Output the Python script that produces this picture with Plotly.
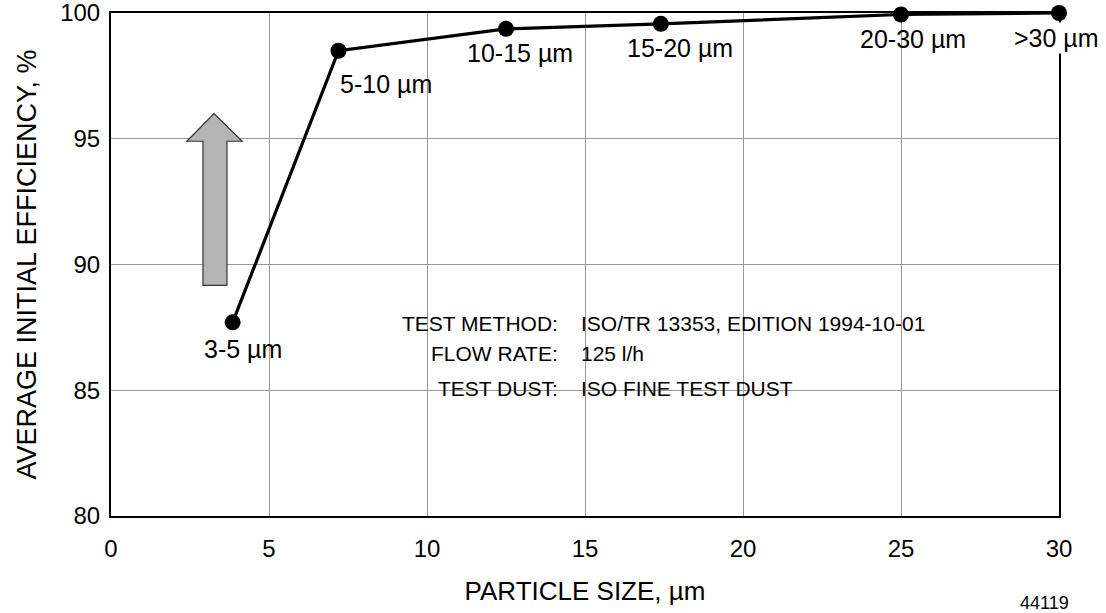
import plotly.graph_objects as go

# ---- data ----
particle_size = [3.85, 7.2, 12.5, 17.4, 25.0, 30.0]
efficiency = [87.7, 98.5, 99.37, 99.57, 99.94, 100.0]
point_labels = ["3-5 µm", "5-10 µm", "10-15 µm", "15-20 µm", "20-30 µm", ">30 µm"]
x_ticks = [0, 5, 10, 15, 20, 25, 30]
y_ticks = [80, 85, 90, 95, 100]
info_keys = ["TEST METHOD:", "FLOW RATE:", "TEST DUST:"]
info_values = ["ISO/TR 13353, EDITION 1994-10-01", "125 l/h", "ISO FINE TEST DUST"]

FONT = "Arial, Liberation Sans, sans-serif"

fig = go.Figure()
fig.add_trace(go.Scatter(
    x=particle_size, y=efficiency, mode="lines+markers",
    line=dict(color="black", width=3.2),
    marker=dict(color="black", size=16),
    cliponaxis=False, showlegend=False, hoverinfo="skip",
))

# label offsets (pixels) relative to each point
label_shift = [(10, -27), (47, -33), (14, -24), (19, -24), (12, -24), (-3, -25)]
for (xv, yv, lab, (dx, dy)) in zip(particle_size, efficiency, point_labels, label_shift):
    fig.add_annotation(
        x=xv, y=yv, xref="x", yref="y", text=lab, showarrow=False,
        xshift=dx, yshift=dy, font=dict(family=FONT, size=25, color="black"),
        bgcolor="white" if lab.startswith(">") else None,
    )

# test info block
info_y = [87.66, 86.47, 85.08]
for k, v, yy in zip(info_keys, info_values, info_y):
    fig.add_annotation(x=14.2, y=yy, xref="x", yref="y", text=k, showarrow=False,
                       xanchor="right", font=dict(family=FONT, size=21, color="black"))
    fig.add_annotation(x=14.8, y=yy, xref="x", yref="y", text=v, showarrow=False,
                       xanchor="left", font=dict(family=FONT, size=21, color="black"))

# figure number
fig.add_annotation(x=1.0, y=-0.172, xref="paper", yref="paper", text="44119",
                   showarrow=False, xanchor="right", yanchor="middle", xshift=12,
                   font=dict(family=FONT, size=18, color="black"))

# gray block arrow
fig.add_shape(
    type="path", xref="x", yref="y",
    path="M 2.91 89.17 L 3.67 89.17 L 3.67 94.9 L 4.15 94.9 L 3.26 96.0 L 2.40 94.9 L 2.91 94.9 Z",
    fillcolor="#b4b4b4", line=dict(color="#333333", width=1.2), layer="above",
)

axis_common = dict(
    showline=True, linecolor="black", linewidth=2, mirror=True,
    showgrid=True, gridcolor="#999999", gridwidth=1,
    zeroline=False, ticks="outside", tickcolor="rgba(0,0,0,0)",
    tickfont=dict(family=FONT, size=24, color="black"),
    automargin=False, ticklabeloverflow="allow",
)

fig.update_xaxes(range=[0, 30], tickvals=x_ticks, ticklen=10,
                 title=dict(text="PARTICLE SIZE, µm", font=dict(family=FONT, size=26, color="black"), standoff=21),
                 **axis_common)
fig.update_yaxes(range=[80, 100], tickvals=y_ticks, ticklen=4,
                 title=dict(text="AVERAGE INITIAL EFFICIENCY, %", font=dict(family=FONT, size=27, color="black"), standoff=16),
                 **axis_common)

fig.update_layout(
    width=1106, height=613,
    margin=dict(l=111, r=47, t=13, b=97),
    plot_bgcolor="white", paper_bgcolor="white",
    font=dict(family=FONT, color="black"),
)

fig.write_html("out.html", config={"displayModeBar": False},
               post_script="document.body.style.margin='0';")
